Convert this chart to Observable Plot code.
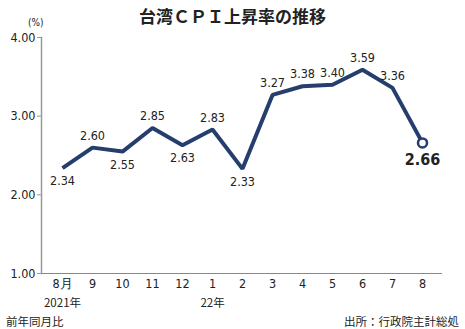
<!DOCTYPE html>
<html>
<head>
<meta charset="utf-8">
<script src="https://cdn.jsdelivr.net/npm/d3@7"></script>
<script src="https://cdn.jsdelivr.net/npm/@observablehq/plot@0.6"></script>
<style>
  body { margin: 0; background: #fff; }
  #wrap { position: relative; width: 465px; height: 329px; overflow: hidden; font-family: "Noto Sans CJK JP", sans-serif; color: #222; }
  #title { position: absolute; left: 0; top: 3px; width: 465px; text-align: center; font-size: 17px; font-weight: bold; line-height: 26px; }
  #unit { position: absolute; left: 28px; top: 17px; font-size: 10px; font-family: "DejaVu Sans Condensed", sans-serif; }
  #foot { position: absolute; left: 0; top: 313px; width: 465px; font-size: 11.5px; line-height: 16px; }
  #foot .l { position: absolute; left: 6px; }
  #foot .r { position: absolute; right: 6px; }
  #chart { position: absolute; left: 0; top: 0; }
</style>
</head>
<body>
<div id="wrap">
  <div id="chart"></div>
  <div id="title">台湾ＣＰＩ上昇率の推移</div>
  <div id="unit">(%)</div>
  <div id="foot"><span class="l">前年同月比</span><span class="r">出所：行政院主計総処</span></div>
</div>
<script>
const months = ["8月", "9", "10", "11", "12", "1", "2", "3", "4", "5", "6", "7", "8"];
const values = [2.34, 2.60, 2.55, 2.85, 2.63, 2.83, 2.33, 3.27, 3.38, 3.40, 3.59, 3.36, 2.66];
const labelPos = ["below", "above", "below", "above", "below", "above", "below", "above", "above", "above", "above", "above", "below"];
const yearLabels = [{m: "8月", t: "2021年"}, {m: "1", t: "22年"}];
const yTicks = [1, 2, 3, 4];

const data = months.map((m, i) => ({m, v: values[i], pos: labelPos[i], last: i === months.length - 1}));
const navy = "#263e6e";
const numFont = "DejaVu Sans Condensed, sans-serif";

const chart = Plot.plot({
  width: 465,
  height: 310,
  marginTop: 37,
  marginBottom: 37,
  marginLeft: 41,
  marginRight: 23,
  style: {fontFamily: numFont, fontSize: "12px", color: "#222", background: "transparent"},
  x: {type: "point", domain: months, padding: 0.55, label: null},
  y: {domain: [1, 4], label: null},
  marks: [
    Plot.ruleY([1], {stroke: "#888", strokeWidth: 1}),
    Plot.frame({anchor: "left", stroke: "#999", strokeWidth: 1.5}),
    Plot.axisY({ticks: yTicks, tickFormat: d => d.toFixed(2), tickSize: 4, tickPadding: 2, stroke: "#999", fontSize: 12.5, fill: "#222"}),
    Plot.axisX({tickSize: 0, tickPadding: 6, fontSize: 12.5, fill: "#222", tickFormat: d => d}),
    Plot.text(yearLabels, {x: "m", text: "t", frameAnchor: "bottom", lineAnchor: "middle", dy: 30, fontSize: 11.5, fill: "#222", fontFamily: "Noto Sans CJK JP, sans-serif"}),
    Plot.line(data, {x: "m", y: "v", stroke: navy, strokeWidth: 4, strokeLinejoin: "miter", strokeLinecap: "butt"}),
    Plot.dot(data.filter(d => d.last), {x: "m", y: "v", r: 4.5, fill: "white", stroke: navy, strokeWidth: 2.5}),
    Plot.text(data.filter(d => !d.last && d.pos === "above"), {x: "m", y: "v", text: d => d.v.toFixed(2), dy: -12, fontSize: 12.5, fill: "#222"}),
    Plot.text(data.filter(d => !d.last && d.pos === "below"), {x: "m", y: "v", text: d => d.v.toFixed(2), dy: 13, fontSize: 12.5, fill: "#222"}),
    Plot.text(data.filter(d => d.last), {x: "m", y: "v", text: d => d.v.toFixed(2), dy: 17, fontSize: 16, fontWeight: "bold", fill: "#222"}),
  ]
});
document.getElementById("chart").append(chart);
</script>
</body>
</html>
